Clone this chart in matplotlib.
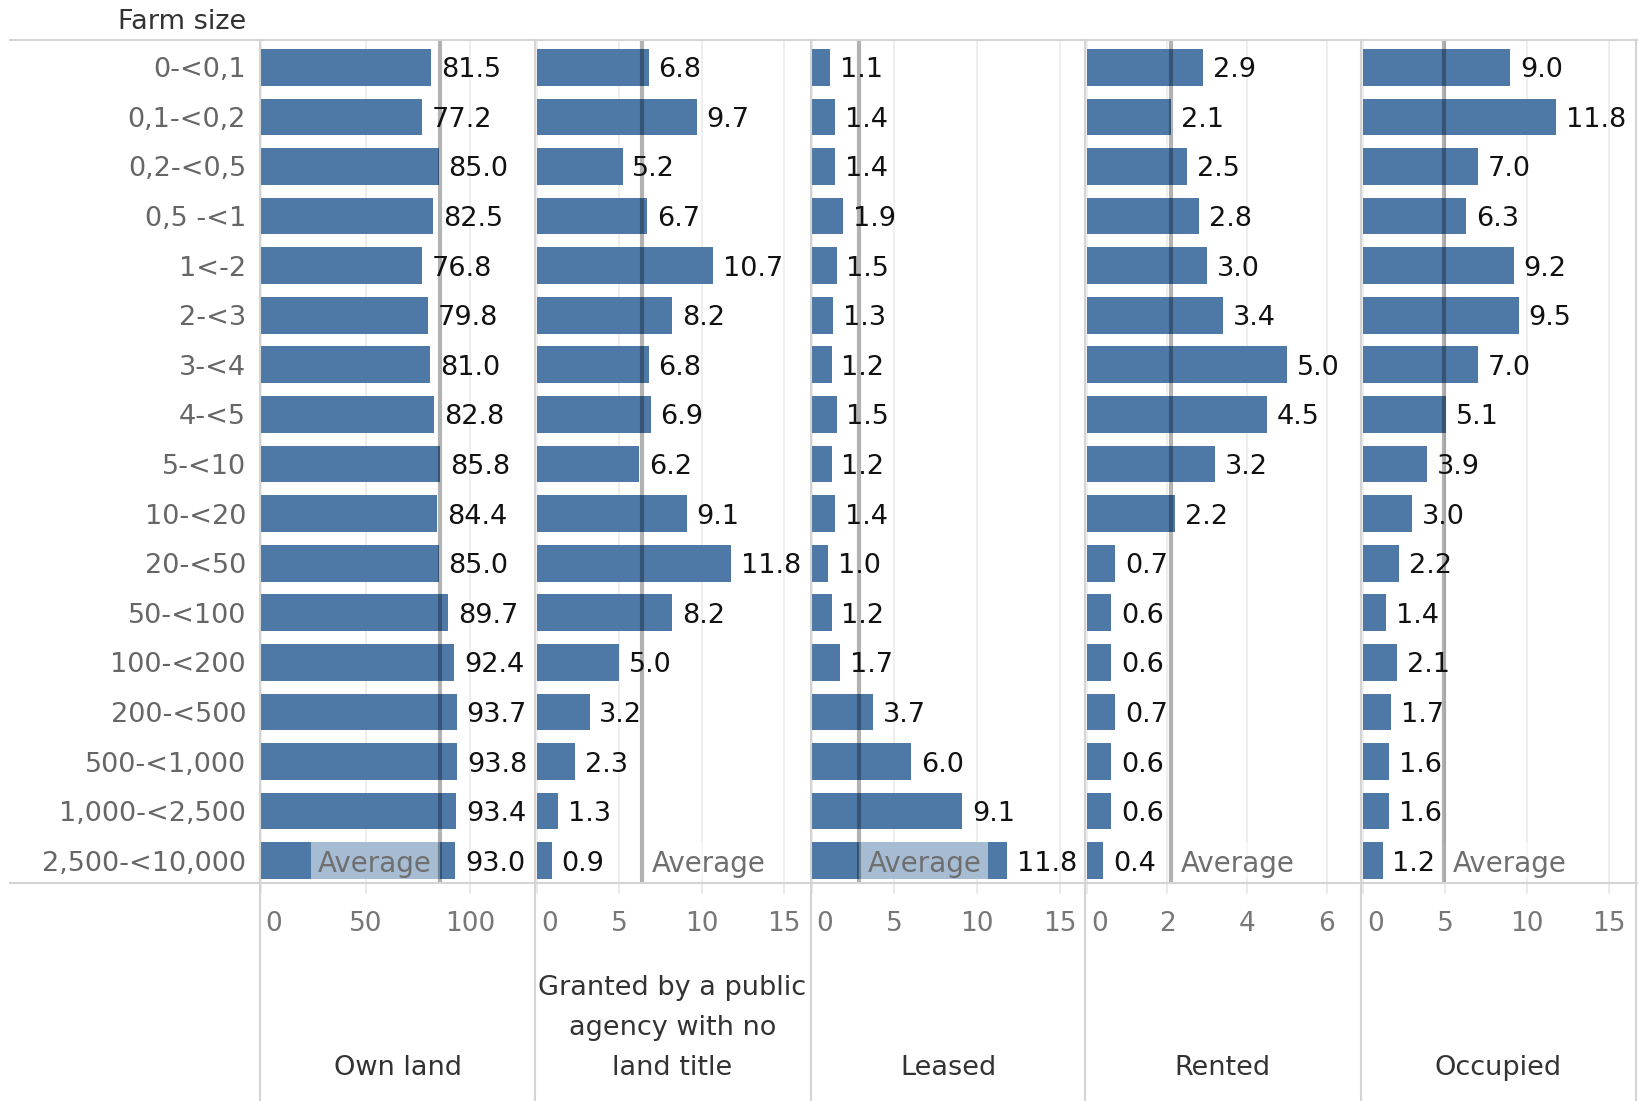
import numpy as np
import matplotlib
matplotlib.use('Agg')
import matplotlib.pyplot as plt
from matplotlib.lines import Line2D
from matplotlib.patches import Rectangle
from matplotlib.transforms import ScaledTranslation

# data (share of farms, %)
farm_sizes = ['0-<0,1', '0,1-<0,2', '0,2-<0,5', '0,5 -<1', '1<-2', '2-<3', '3-<4', '4-<5',
              '5-<10', '10-<20', '20-<50', '50-<100', '100-<200', '200-<500',
              '500-<1,000', '1,000-<2,500', '2,500-<10,000']
tenure = ['Own land', 'Granted by a public\nagency with no\nland title', 'Leased', 'Rented', 'Occupied']
own_land = [81.5, 77.2, 85.0, 82.5, 76.8, 79.8, 81.0, 82.8, 85.8, 84.4, 85.0, 89.7, 92.4, 93.7, 93.8, 93.4, 93.0]
granted = [6.8, 9.7, 5.2, 6.7, 10.7, 8.2, 6.8, 6.9, 6.2, 9.1, 11.8, 8.2, 5.0, 3.2, 2.3, 1.3, 0.9]
leased = [1.1, 1.4, 1.4, 1.9, 1.5, 1.3, 1.2, 1.5, 1.2, 1.4, 1.0, 1.2, 1.7, 3.7, 6.0, 9.1, 11.8]
rented = [2.9, 2.1, 2.5, 2.8, 3.0, 3.4, 5.0, 4.5, 3.2, 2.2, 0.7, 0.6, 0.6, 0.7, 0.6, 0.6, 0.4]
occupied = [9.0, 11.8, 7.0, 6.3, 9.2, 9.5, 7.0, 5.1, 3.9, 3.0, 2.2, 1.4, 2.1, 1.7, 1.6, 1.6, 1.2]
axis_ticks = [[0, 50, 100], [0, 5, 10, 15], [0, 5, 10, 15], [0, 2, 4, 6], [0, 5, 10, 15]]

series = [own_land, granted, leased, rented, occupied]

# layout in pixels of the 1638x1101 canvas
W, H = 1638, 1101
TOP, BOTTOM = 40, 883
lefts = [260, 535, 811, 1085, 1361]
RIGHT = 1636
PW = 275
xlims = [(-0.5, 131.1), (-0.12, 16.59), (-0.04, 16.56), (-0.06, 6.83), (-0.12, 16.67)]

BLUE = '#4e79a7'
BORDER = '#d4d4d4'

plt.rcParams['font.family'] = ['DejaVu Sans']
fig = plt.figure(figsize=(W / 100, H / 100), dpi=100)

n = len(farm_sizes)
y = np.arange(n)
avg_labels = []
for i, (vals, lim, tk) in enumerate(zip(series, xlims, axis_ticks)):
    ax = fig.add_axes([lefts[i] / W, 1 - BOTTOM / H, PW / W, (BOTTOM - TOP) / H])
    ax.barh(y, vals, height=0.74, color=BLUE, zorder=2)
    ax.set_xlim(*lim)
    ax.set_ylim(n - 0.55, -0.55)
    ax.set_xticks(tk)
    ax.set_xticklabels([str(t) for t in tk])
    ax.tick_params(axis='x', length=8, width=1.2, color='#e6e6e6', pad=12,
                   labelsize=19, labelcolor='#777777')
    first = ax.xaxis.get_major_ticks()[0].label1
    first.set_horizontalalignment('left')
    first.set_transform(first.get_transform() + ScaledTranslation(3 / 72, 0, fig.dpi_scale_trans))
    if i == 0:
        ax.set_yticks(y)
        ax.set_yticklabels(farm_sizes, va='center_baseline')
        ax.tick_params(axis='y', length=0, pad=10, labelsize=19.5, labelcolor='#666666')
    else:
        ax.tick_params(axis='y', left=False, labelleft=False)
    ax.grid(axis='x', color='#ebebeb', lw=1.2)
    ax.set_axisbelow(True)
    for s in ax.spines.values():
        s.set_visible(False)

    for yy, v in zip(y, vals):
        ax.annotate(f'{v:.1f}', (v, yy), xytext=(7, 0), textcoords='offset points',
                    va='center_baseline', ha='left', fontsize=19.5, color='#111111',
                    zorder=5, annotation_clip=False)

    avg = np.mean(vals)
    ax.axvline(avg, color='black', alpha=0.3, lw=3, zorder=3)
    on_left = avg > 0.5 * lim[1]
    dx = -6.5 if on_left else 6.5
    t = ax.annotate('Average', (avg, n - 1), xytext=(dx, 0), textcoords='offset points',
                    va='center_baseline', ha='right' if on_left else 'left',
                    fontsize=20, color='#6f6f6f', zorder=5)
    avg_labels.append((ax, avg, t, on_left))

    fig.text((lefts[i] + PW / 2) / W, 1 - 1081 / H, tenure[i], ha='center', va='bottom',
             fontsize=19.5, color='#333333', linespacing=1.69)

# translucent box behind the "Average" labels
fig.canvas.draw()
renderer = fig.canvas.get_renderer()
for ax, avg, t, on_left in avg_labels:
    bb = t.get_window_extent(renderer)
    inv = ax.transData.inverted()
    if on_left:
        x_end = inv.transform((bb.x0 - 6, 0))[0]
        x0, x1 = x_end, avg
    else:
        x_end = inv.transform((bb.x1 + 6, 0))[0]
        x0, x1 = avg, x_end
    ax.add_patch(Rectangle((x0, n - 1 - 0.37), x1 - x0, 0.74, facecolor='white',
                           alpha=0.5, edgecolor='none', zorder=2.5))

fig.text(246 / W, 1 - 22 / H, 'Farm size', ha='right', va='center', fontsize=19.5, color='#333333')

# table borders
for yy in (TOP, BOTTOM):
    fig.add_artist(Line2D([10 / W, 1], [1 - yy / H] * 2, color=BORDER, lw=1.5,
                          transform=fig.transFigure))
for xx in lefts + [RIGHT]:
    fig.add_artist(Line2D([xx / W] * 2, [1 - TOP / H, 0], color=BORDER, lw=1.5,
                          transform=fig.transFigure))

fig.savefig('out.png', dpi=100)
